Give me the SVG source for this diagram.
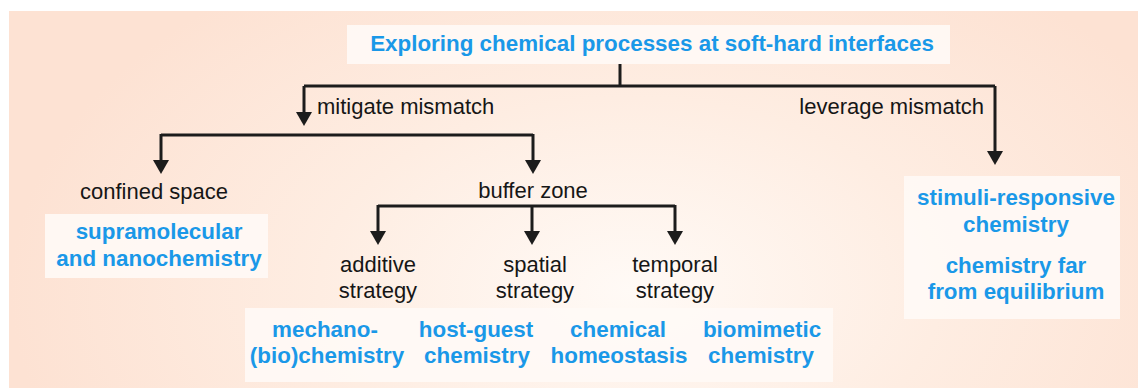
<svg xmlns="http://www.w3.org/2000/svg" width="1138" height="388" viewBox="0 0 1138 388">
  <defs>
    <radialGradient id="bg" gradientUnits="userSpaceOnUse" cx="630" cy="290" r="620" gradientTransform="translate(630 290) scale(1 0.62) translate(-630 -290)">
      <stop offset="0" stop-color="#fffaf6"/>
      <stop offset="0.5" stop-color="#feede2"/>
      <stop offset="1" stop-color="#fde2d3"/>
    </radialGradient>
    <marker id="arrow" markerUnits="userSpaceOnUse" markerWidth="16" markerHeight="16" viewBox="0 -8 14 16" refX="1" refY="0" orient="auto">
      <path d="M0,-8 L14,0 L0,8 Z" fill="#1c1c1c"/>
    </marker>
    <style>
      .box { fill: #fffaf6; fill-opacity: 0.9; }
      .lbl { font-family: "Liberation Sans", Arial, sans-serif; font-size: 22px; fill: #161616; }
      .key { font-family: "Liberation Sans", Arial, sans-serif; font-size: 22.4px; font-weight: bold; fill: #1a98e8; text-anchor: middle; }
      .mid { text-anchor: middle; }
      .wire { fill: none; stroke: #1c1c1c; stroke-width: 3; }
      .arr { marker-end: url(#arrow); }
    </style>
  </defs>

  <rect width="1138" height="388" fill="#ffffff"/>
  <rect x="9" y="11" width="1129" height="377" fill="url(#bg)"/>

  <!-- connectors -->
  <g id="connectors">
    <path class="wire" d="M620 64 V86"/>
    <path class="wire" d="M304 86 H995"/>
    <path class="wire arr" d="M304 86 V113"/>
    <path class="wire arr" d="M995 86 V152"/>
    <path class="wire" d="M161 135 H533"/>
    <path class="wire arr" d="M161 134 V161"/>
    <path class="wire arr" d="M533 134 V161"/>
    <path class="wire" d="M378 206 H675"/>
    <path class="wire arr" d="M378 205 V232"/>
    <path class="wire arr" d="M532 205 V232"/>
    <path class="wire arr" d="M675 205 V232"/>
    <text class="lbl" x="317" y="114">mitigate mismatch</text>
    <text class="lbl" x="984" y="114" text-anchor="end">leverage mismatch</text>
  </g>

  <!-- root -->
  <g id="root">
    <rect class="box" x="347" y="25" width="603" height="39"/>
    <text class="key" x="652" y="51">Exploring chemical processes at soft-hard interfaces</text>
  </g>

  <!-- mitigate branch -->
  <g id="confined-space">
    <text class="lbl mid" x="154" y="199">confined space</text>
  </g>
  <g id="supramolecular">
    <rect class="box" x="45" y="214" width="223" height="64"/>
    <text class="key" x="159" y="239">supramolecular</text>
    <text class="key" x="159" y="266">and nanochemistry</text>
  </g>
  <g id="buffer-zone">
    <text class="lbl mid" x="533" y="198">buffer zone</text>
  </g>
  <g id="additive-strategy">
    <text class="lbl mid" x="378" y="272">additive</text>
    <text class="lbl mid" x="378" y="298">strategy</text>
  </g>
  <g id="spatial-strategy">
    <text class="lbl mid" x="535" y="272">spatial</text>
    <text class="lbl mid" x="535" y="298">strategy</text>
  </g>
  <g id="temporal-strategy">
    <text class="lbl mid" x="675" y="272">temporal</text>
    <text class="lbl mid" x="675" y="298">strategy</text>
  </g>

  <!-- strategy outcomes -->
  <g id="outcomes">
    <rect class="box" x="245" y="308" width="588" height="74"/>
    <g id="mechano">
      <text class="key" x="325" y="337">mechano-</text>
      <text class="key" x="327" y="363">(bio)chemistry</text>
    </g>
    <g id="host-guest">
      <text class="key" x="476" y="337">host-guest</text>
      <text class="key" x="477" y="363">chemistry</text>
    </g>
    <g id="homeostasis">
      <text class="key" x="618" y="337">chemical</text>
      <text class="key" x="619" y="363">homeostasis</text>
    </g>
    <g id="biomimetic">
      <text class="key" x="762" y="337">biomimetic</text>
      <text class="key" x="761" y="363">chemistry</text>
    </g>
  </g>

  <!-- leverage branch -->
  <g id="leverage-outcomes">
    <rect class="box" x="904" y="176" width="216" height="143"/>
    <text class="key" x="1016" y="205">stimuli-responsive</text>
    <text class="key" x="1016" y="232">chemistry</text>
    <text class="key" x="1016" y="273">chemistry far</text>
    <text class="key" x="1016" y="299">from equilibrium</text>
  </g>
</svg>
